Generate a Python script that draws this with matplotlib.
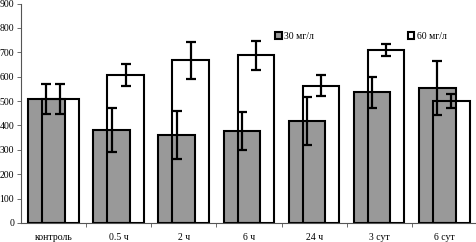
import matplotlib
matplotlib.use('Agg')
from matplotlib import pyplot as plt
import numpy as np

plt.rcParams['font.family'] = ['Liberation Serif', 'DejaVu Serif']

categories = ['контроль', '0.5 ч', '2 ч', '6 ч', '24 ч', '3 сут', '6 сут']
mg30 = [508, 383, 361, 377, 418, 536, 554]
mg30_err = [60, 90, 99, 78, 98, 64, 111]
mg60 = [508, 607, 667, 687, 563, 709, 501]
mg60_err = [60, 45, 75, 58, 43, 23, 29]

fig = plt.figure(figsize=(4.77, 2.42), dpi=100)
ax = fig.add_axes([21 / 477, 19 / 242, 456 / 477, 219.5 / 242])

x = np.arange(len(categories))
w = 0.56
ax.bar(x - 0.11, mg30, w, color='#999999', edgecolor='black', linewidth=1.5,
       label='30 мг/л', zorder=2)
ax.bar(x + 0.105, mg60, w, fill=False, edgecolor='black', linewidth=1.5,
       label='60 мг/л', zorder=3)
ax.errorbar(x - 0.11, mg30, yerr=mg30_err, fmt='none', ecolor='black',
            elinewidth=1.6, capsize=3.8, capthick=1.6, zorder=4)
ax.errorbar(x + 0.105, mg60, yerr=mg60_err, fmt='none', ecolor='black',
            elinewidth=1.6, capsize=3.8, capthick=1.6, zorder=4)

ax.set_xlim(-0.5, len(categories) - 0.5)
ax.set_ylim(0, 900)
ax.set_yticks(range(0, 901, 100))
ax.set_xticks(x)
ax.set_xticklabels(categories, fontsize=7)
ax.set_xticks(np.arange(0.5, len(categories) - 0.5), minor=True)
ax.tick_params(axis='x', which='major', length=0, pad=7)
ax.tick_params(axis='x', which='minor', length=3, width=0.6, color='#555555')
ax.tick_params(axis='y', labelsize=7, length=3, width=0.6, color='#555555', pad=2)

for s in ['top', 'right']:
    ax.spines[s].set_visible(False)
ax.spines['left'].set_color('#555555')
ax.spines['bottom'].set_color('#555555')
ax.spines['left'].set_linewidth(0.8)
ax.spines['bottom'].set_linewidth(0.8)

ax.legend(loc='upper right', bbox_to_anchor=(0.954, 0.91), ncol=2, frameon=False,
          fontsize=7, handlelength=0.7, handleheight=0.7, handletextpad=0.3,
          columnspacing=9.6)

fig.savefig('out.png', dpi=100)
